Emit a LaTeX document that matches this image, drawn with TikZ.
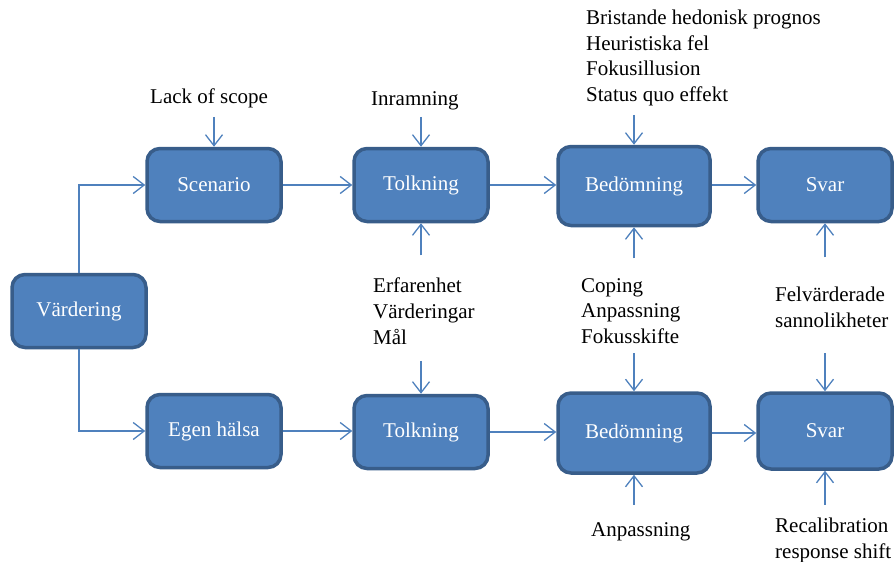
\documentclass[tikz,border=0pt]{standalone}
\usepackage{fontspec}
\setmainfont{Liberation Serif}
\usetikzlibrary{arrows.meta}
\definecolor{boxfill}{HTML}{4F81BD}
\definecolor{boxline}{HTML}{385D8A}
\tikzset{
  stage/.style={draw=boxline,fill=boxfill,line width=3.5pt,rounded corners=13pt,
    minimum width=134pt,minimum height=73pt,text=white,inner sep=0pt},
  flow/.style={draw=boxfill,line width=1.3pt,-{Straight Barb[length=11pt,width=17pt,line width=1.3pt]}},
  factor/.style={align=left,anchor=north west,inner sep=0pt}
}
\begin{document}
\begin{tikzpicture}[x=1pt,y=-1pt,font=\fontsize{21}{25.6}\selectfont]
\useasboundingbox (0,0) rectangle (895,562);
% boxes
\node[stage] (vard) at (79,311) {Värdering};
\node[stage] (scen) at (214,185) {Scenario};
\node[stage] (egen) at (214,431) {Egen hälsa};
\node[stage] (tolkA) at (421,185) {Tolkning};
\node[stage] (tolkB) at (421,432) {Tolkning};
\node[stage,minimum width=152pt,minimum height=79pt] (bedA) at (634,186) {Bedömning};
\node[stage,minimum width=152pt,minimum height=80pt] (bedB) at (634,433) {Bedömning};
\node[stage] (svarA) at (825,185) {Svar};
\node[stage,minimum height=76pt] (svarB) at (825,431) {Svar};
% factors
\node[factor] (lack) at (150,89) {Lack of scope};
\node[factor] (inram) at (371,91) {Inramning};
\node[factor] (brist) at (586,10) {Bristande hedonisk prognos\\Heuristiska fel\\Fokusillusion\\Status quo effekt};
\node[factor] (erfar) at (373,278) {Erfarenhet\\Värderingar\\Mål};
\node[factor] (coping) at (581,278) {Coping\\Anpassning\\Fokusskifte};
\node[factor] (felv) at (775,287) {Felvärderade\\sannolikheter};
\node[factor] (anpass) at (591,522) {Anpassning};
\node[factor] (recal) at (775,518) {Recalibration\\response shift};
% flow
\draw[flow] (vard.north) |- (scen.west);
\draw[flow] (vard.south) |- (egen.west);
\draw[flow] (scen) -- (tolkA);
\draw[flow] (tolkA) -- (bedA.west |- tolkA);
\draw[flow] (bedA.east |- svarA) -- (svarA);
\draw[flow] (egen) -- (tolkB.west |- egen);
\draw[flow] (tolkB) -- (bedB.west |- tolkB);
\draw[flow] (bedB) -- (svarB.west |- bedB);
% influences
\draw[flow] ([yshift=30pt]scen.north) -- (scen.north);
\draw[flow] ([yshift=30pt]tolkA.north) -- (tolkA.north);
\draw[flow] ([yshift=30pt]bedA.north) -- (bedA.north);
\draw[flow] ([yshift=-32pt]tolkA.south) -- (tolkA.south);
\draw[flow] ([yshift=-31pt]bedA.south) -- (bedA.south);
\draw[flow] ([yshift=-34pt]svarA.south) -- (svarA.south);
\draw[flow] ([yshift=33pt]tolkB.north) -- (tolkB.north);
\draw[flow] ([yshift=38pt]bedB.north) -- (bedB.north);
\draw[flow] ([yshift=38pt]svarB.north) -- (svarB.north);
\draw[flow] ([yshift=-30pt]bedB.south) -- (bedB.south);
\draw[flow] ([yshift=-34pt]svarB.south) -- (svarB.south);
\end{tikzpicture}
\end{document}
